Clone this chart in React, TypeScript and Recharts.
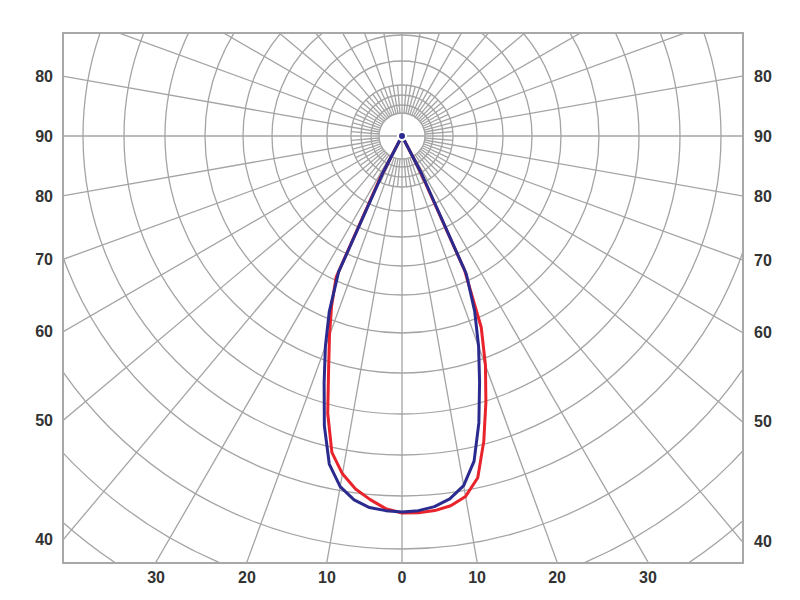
import React from "react";
import {
  RadarChart,
  Radar,
  PolarGrid,
  PolarAngleAxis,
  PolarRadiusAxis,
} from "recharts";

// deflection from nadir in degrees (0 = straight down)
const deflection = [0, 2.5, 5, 7.5, 10, 12.5, 15, 17.5, 20, 22.5, 25, 27.5, 30];

// intensity, right half and left half of each plane
const blueRight = [376, 375, 372, 366, 355, 333, 297, 258, 224, 190, 152, 42, 0];
const blueLeft = [376, 375, 373, 367, 356, 336, 300, 259, 224, 190, 150, 40, 0];
const redRight = [377, 377, 376, 373, 366, 350, 316, 279, 244, 207, 148, 36, 0];
const redLeft = [377, 373, 365, 356, 343, 324, 287, 244, 212, 184, 156, 47, 0];

// grid rings (same units as intensity)
const ringValues = [23, 31, 41, 51, 75, 101, 130, 159, 197, 237, 278, 319, 360, 413, 464, 514];

// angle ticks (0 = down, 90 = right, 180 = up, 270 = left)
const crossAngles = [0, 90, 180, 270];
const labelAngles = [0, 10, 20, 30, 40, 50, 60, 70, 80, 90, 100, 260, 270, 280, 290, 300, 310, 320, 330, 340, 350];

const range = (from: number, to: number, step: number) => {
  const out: number[] = [];
  for (let v = from; v < to; v += step) out.push(v);
  return out;
};
const spokes10 = range(0, 360, 10).filter((a) => a % 90 !== 0);
const spokes5 = range(5, 360, 10);

const data = [
  ...deflection.map((d, i) => ({ angle: d, blue: blueRight[i], red: redRight[i] })),
  ...deflection
    .map((d, i) => ({ angle: 360 - d, blue: blueLeft[i], red: redLeft[i] }))
    .slice(1)
    .reverse(),
];

const R_MAX = 600; // radius axis domain max, drawn at R_MAX px
const CX = 402;
const CY = 136;
const FRAME = { left: 64, right: 742, top: 34, bottom: 562 };
const PLOT_W = FRAME.right - FRAME.left;
const PLOT_H = FRAME.bottom - FRAME.top;
const GRID = "#a4a4a4";
const NO_MARGIN = { top: 0, right: 0, bottom: 0, left: 0 };

const ringRadii = ringValues.map((v) => (v / R_MAX) * R_MAX);

const angleLabel = (v: number) => {
  const d = Math.min(v, 360 - v);
  return d > 90 ? 180 - d : d;
};

// put each angle label where its spoke leaves the frame
function EdgeTick(props: any) {
  const { payload } = props;
  const a = (payload.coordinate * Math.PI) / 180;
  const dx = Math.cos(a);
  const dy = -Math.sin(a);
  const tx = dx > 1e-6 ? (FRAME.right - CX) / dx : dx < -1e-6 ? (FRAME.left - CX) / dx : Infinity;
  const ty = dy > 1e-6 ? (FRAME.bottom - CY) / dy : dy < -1e-6 ? (FRAME.top - CY) / dy : Infinity;
  let x: number;
  let y: number;
  let anchor: "start" | "middle" | "end";
  if (ty < tx) {
    x = CX + dx * ty;
    y = FRAME.bottom + 21;
    anchor = "middle";
  } else if (dx < 0) {
    x = FRAME.left - 11;
    y = CY + dy * tx + 6;
    anchor = "end";
  } else {
    x = FRAME.right + 12;
    y = CY + dy * tx + 6;
    anchor = "start";
  }
  return (
    <text
      x={x}
      y={y}
      textAnchor={anchor}
      fontFamily="'Liberation Sans', Arial, sans-serif"
      fontWeight="bold"
      fontSize={16}
      fill="#333"
    >
      {angleLabel(payload.value)}
    </text>
  );
}

function GridLayer({
  innerRadius,
  outerRadius,
  angles,
  radii,
}: {
  innerRadius: number;
  outerRadius: number;
  angles: number[];
  radii: number[];
}) {
  return (
    <div style={{ position: "absolute", left: 0, top: 0 }}>
      <RadarChart
        width={PLOT_W}
        height={PLOT_H}
        cx={CX - FRAME.left}
        cy={CY - FRAME.top}
        innerRadius={innerRadius}
        outerRadius={outerRadius}
        startAngle={-90}
        endAngle={270}
        margin={NO_MARGIN}
        data={data}
      >
        <PolarAngleAxis
          dataKey="angle"
          type="number"
          domain={[0, 360]}
          ticks={angles}
          tick={false}
          tickLine={false}
          axisLine={false}
        />
        <PolarGrid
          gridType="circle"
          radialLines={angles.length > 0}
          polarRadius={radii}
          stroke={GRID}
          strokeWidth={1.3}
        />
      </RadarChart>
    </div>
  );
}

export default function App() {
  return (
    <div
      style={{
        position: "absolute",
        left: 0,
        top: 0,
        width: 800,
        height: 600,
        background: "#fff",
      }}
    >
      {/* grid, clipped to the frame */}
      <div
        style={{
          position: "absolute",
          left: FRAME.left - 2,
          top: FRAME.top - 2,
          width: PLOT_W,
          height: PLOT_H,
          border: "2px solid #a8a8a8",
          overflow: "hidden",
        }}
      >
        <GridLayer innerRadius={0} outerRadius={R_MAX} angles={[]} radii={ringRadii} />
        <GridLayer innerRadius={0} outerRadius={R_MAX} angles={crossAngles} radii={[]} />
        <GridLayer innerRadius={23} outerRadius={R_MAX} angles={spokes10} radii={[]} />
        <GridLayer innerRadius={23} outerRadius={51} angles={spokes5} radii={[]} />
      </div>

      {/* curves and angle labels */}
      <div style={{ position: "absolute", left: 0, top: 0 }}>
        <RadarChart
          width={800}
          height={600}
          cx={CX}
          cy={CY}
          innerRadius={0}
          outerRadius={R_MAX}
          startAngle={-90}
          endAngle={270}
          margin={NO_MARGIN}
          data={data}
        >
          <PolarAngleAxis
            dataKey="angle"
            type="number"
            domain={[0, 360]}
            ticks={labelAngles}
            tick={<EdgeTick />}
            tickLine={false}
            axisLine={false}
          />
          <PolarRadiusAxis type="number" domain={[0, R_MAX]} tick={false} axisLine={false} />
          <Radar
            dataKey="red"
            stroke="#e8232b"
            strokeWidth={3}
            strokeLinejoin="round"
            fill="none"
            dot={false}
            isAnimationActive={false}
          />
          <Radar
            dataKey="blue"
            stroke="#2b2a8e"
            strokeWidth={3}
            strokeLinejoin="round"
            fill="none"
            dot={false}
            isAnimationActive={false}
          />
        </RadarChart>
      </div>
    </div>
  );
}
